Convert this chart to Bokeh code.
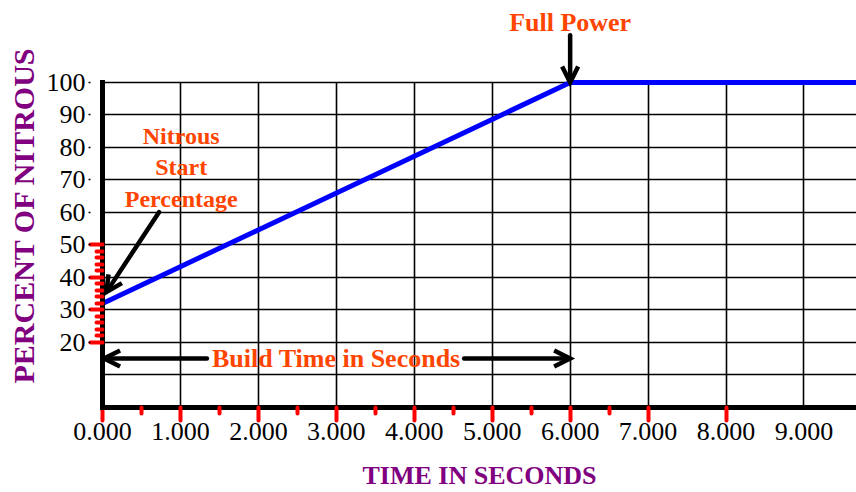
from bokeh.plotting import figure
from bokeh.models import (FixedTicker, LinearAxis, Label, Arrow, OpenHead, Title,
                          NumeralTickFormatter, Range1d, CustomJSTickFormatter)
from bokeh.embed import file_html
from bokeh.resources import INLINE

# ---------------- data ----------------
time_s = [0, 6, 10]
percent = [32, 100, 100]

x_tick_values = [0, 1, 2, 3, 4, 5, 6, 7, 8, 9]
y_tick_values = [20, 30, 40, 50, 60, 70, 80, 90, 100]
x_grid_values = [1, 2, 3, 4, 5, 6, 7, 8, 9]
y_grid_values = [10, 20, 30, 40, 50, 60, 70, 80, 90, 100]

x_red_major = [0, 1, 2, 3, 4, 5, 6, 7, 8]
x_red_minor = [0.5, 1.5, 2.5, 3.5, 4.5, 5.5, 6.5]
y_red_major = [20, 30, 40, 50]
y_red_minor = [22, 24, 26, 28, 32, 34, 36, 38, 42, 44, 46, 48]

build_time_end = 6
start_percent = 32
full_percent = 100

SERIF = "Liberation Serif"
ORANGE = "#FF4500"
PURPLE = "#800080"

# ---------------- figure ----------------
p = figure(width=856, height=492,
           x_range=Range1d(0, 9.674), y_range=Range1d(0, 125.23),
           output_backend="svg", toolbar_location=None,
           min_border_left=100, min_border_right=0,
           min_border_top=0, min_border_bottom=85)
p.outline_line_color = None
p.background_fill_color = "white"
p.border_fill_color = "white"

# grids
p.xgrid.ticker = FixedTicker(ticks=x_grid_values)
p.xgrid[0].cross_bounds = (0, 100)
p.ygrid.ticker = FixedTicker(ticks=y_grid_values)
for g in (p.xgrid[0], p.ygrid[0]):
    g.grid_line_color = "black"
    g.grid_line_width = 1.6

blank = CustomJSTickFormatter(code="return ''")

# x axis: thick rule with red tick marks
xa = p.xaxis[0]
xa.ticker = FixedTicker(ticks=x_red_major, minor_ticks=x_red_minor)
xa.formatter = blank
xa.major_label_text_font_size = "1px"
xa.major_label_standoff = 0
xa.axis_line_color = "black"
xa.axis_line_width = 5
xa.axis_line_cap = "square"
xa.major_tick_line_color = "red"
xa.major_tick_line_width = 4
xa.major_tick_line_cap = "round"
xa.major_tick_in = 0
xa.major_tick_out = 13
xa.minor_tick_line_color = "red"
xa.minor_tick_line_width = 4
xa.minor_tick_line_cap = "round"
xa.minor_tick_in = 0
xa.minor_tick_out = 6

# x axis labels + title
xl = LinearAxis(ticker=FixedTicker(ticks=x_tick_values),
                formatter=NumeralTickFormatter(format="0.000"),
                axis_label="TIME IN SECONDS")
xl.axis_line_color = None
xl.major_tick_line_color = None
xl.minor_tick_line_color = None
xl.major_tick_in = 0
xl.major_tick_out = 0
xl.minor_tick_in = 0
xl.minor_tick_out = 0
xl.major_label_standoff = 2
xl.major_label_text_font = SERIF
xl.major_label_text_font_size = "26px"
xl.major_label_text_color = "black"
xl.axis_label_standoff = 18
xl.axis_label_text_font = SERIF
xl.axis_label_text_font_style = "bold"
xl.axis_label_text_font_size = "26px"
xl.axis_label_text_color = PURPLE
p.add_layout(xl, "below")

# y axis: thick rule with red tick marks
ya = p.yaxis[0]
ya.bounds = (0, 100)
ya.ticker = FixedTicker(ticks=y_red_major, minor_ticks=y_red_minor)
ya.formatter = blank
ya.major_label_text_font_size = "1px"
ya.major_label_standoff = 0
ya.axis_line_color = "black"
ya.axis_line_width = 5
ya.axis_line_cap = "square"
ya.major_tick_line_color = "red"
ya.major_tick_line_width = 4
ya.major_tick_line_cap = "round"
ya.major_tick_in = 0
ya.major_tick_out = 12
ya.minor_tick_line_color = "red"
ya.minor_tick_line_width = 4
ya.minor_tick_line_cap = "round"
ya.minor_tick_in = 0
ya.minor_tick_out = 6

# y axis labels
yl = LinearAxis(ticker=FixedTicker(ticks=y_tick_values), bounds=(0, 100))
yl.axis_line_color = None
yl.major_tick_line_color = "black"
yl.major_tick_line_width = 1.5
yl.major_tick_in = 0
yl.major_tick_out = 2
yl.minor_tick_line_color = None
yl.minor_tick_in = 0
yl.minor_tick_out = 0
yl.major_label_standoff = 3
yl.major_label_text_font = SERIF
yl.major_label_text_font_size = "26px"
yl.major_label_text_color = "black"
yl.major_label_orientation = "horizontal"
p.add_layout(yl, "left")

# y axis title
ytitle = Title(text="PERCENT OF NITROUS", align="left", offset=24,
               text_font=SERIF, text_font_style="bold", text_font_size="30px",
               text_color=PURPLE, standoff=8)
p.add_layout(ytitle, "left")

# ---------------- series ----------------
p.line(time_s, percent, line_color="#0000FF", line_width=5)

# ---------------- annotations ----------------
def txt(text, x, y, size, color):
    p.add_layout(Label(x=x, y=y, text=text,
                       text_align="center", text_baseline="alphabetic",
                       text_font=SERIF, text_font_style="bold",
                       text_font_size=size, text_color=color))

def arrow(x0, y0, x1, y1, size=16):
    p.add_layout(Arrow(x_start=x0, y_start=y0, x_end=x1, y_end=y1,
                       line_color="black", line_width=4.5, line_cap="round",
                       end=OpenHead(size=size, line_color="black", line_width=4.5,
                                    line_join="miter")))

# Full Power
txt("Full Power", build_time_end, 118.6, "26px", ORANGE)
arrow(build_time_end, 114.5, build_time_end, full_percent)

# Nitrous Start Percentage
txt("Nitrous", 1.01, 83.5, "24px", ORANGE)
txt("Start", 1.01, 73.9, "24px", ORANGE)
txt("Percentage", 1.01, 64.3, "24px", ORANGE)
arrow(0.725, 60.1, 0.05, start_percent + 3.5)

# Build Time in Seconds
txt("Build Time in Seconds", 3.0, 15.0, "26px", ORANGE)
arrow(1.34, 15.1, 0.02, 15.1)
arrow(4.64, 15.1, build_time_end, 15.1)

open("out.html", "w").write(file_html(p, INLINE))
